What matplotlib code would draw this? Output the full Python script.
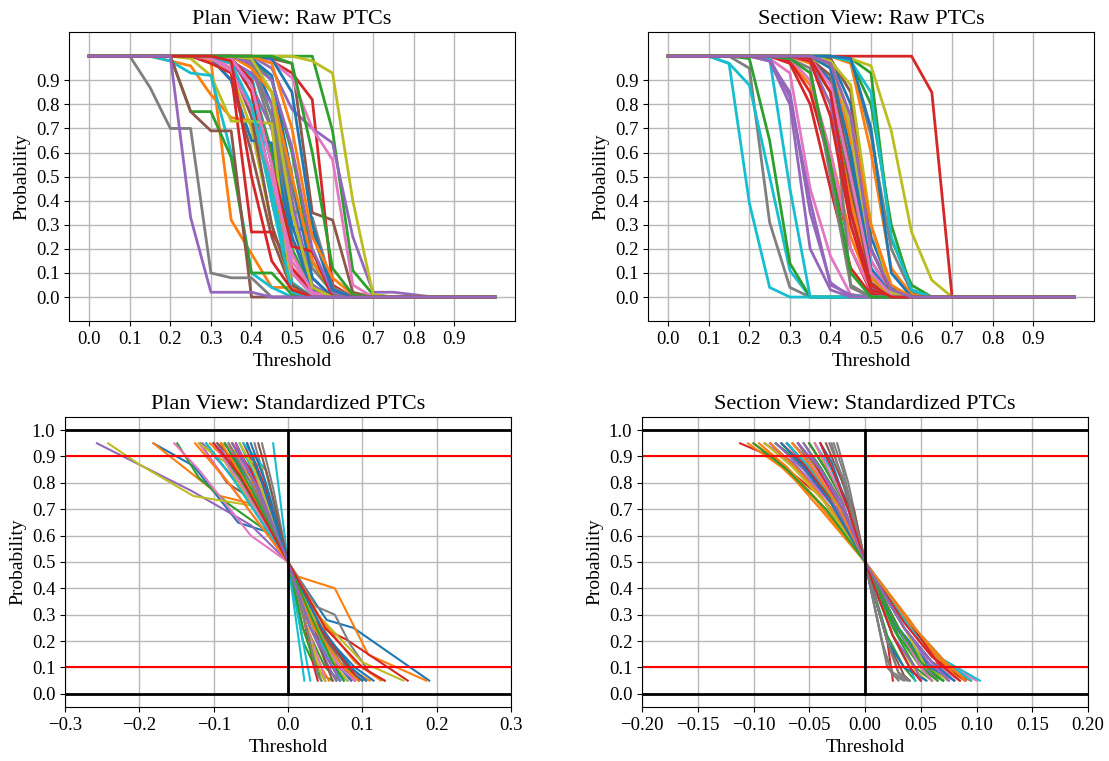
import matplotlib
matplotlib.use("Agg")
import matplotlib.pyplot as plt

plt.rcParams['font.family'] = ['Liberation Serif', 'DejaVu Serif']

# ---------------- data ----------------
THRESH = [0.00, 0.05, 0.10, 0.15, 0.20, 0.25, 0.30, 0.35, 0.40, 0.45, 0.50,
          0.55, 0.60, 0.65, 0.70, 0.75, 0.80, 0.85, 0.90, 0.95, 1.00]

PLAN_RAW = [
    [1,1,1,1,1,1,1,1,.97,.75,.30,.05,0,0,0,0,0,0,0,0,0],
    [1,1,1,1,1,1,.99,.95,.80,.45,.12,.02,0,0,0,0,0,0,0,0,0],
    [1,1,1,1,1,1,1,.98,.90,.60,.20,.03,0,0,0,0,0,0,0,0,0],
    [1,1,1,1,1,1,1,.99,.85,.40,.06,0,0,0,0,0,0,0,0,0,0],
    [1,1,1,1,1,1,1,.97,.88,.70,.35,.08,0,0,0,0,0,0,0,0,0],
    [1,1,1,1,1,1,.99,.90,.60,.25,.03,0,0,0,0,0,0,0,0,0,0],
    [1,1,1,1,1,1,1,.95,.75,.50,.15,.02,0,0,0,0,0,0,0,0,0],
    [1,1,1,1,1,1,1,1,.96,.70,.25,.04,0,0,0,0,0,0,0,0,0],
    [1,1,1,1,1,1,.99,.93,.70,.30,.04,0,0,0,0,0,0,0,0,0,0],
    [1,1,1,1,1,1,1,.98,.92,.55,.10,.01,0,0,0,0,0,0,0,0,0],
    [1,1,1,1,1,1,.99,.90,.65,.64,.25,.03,0,0,0,0,0,0,0,0,0],
    [1,1,1,1,.98,.96,.84,.745,.73,.45,.10,.02,0,0,0,0,0,0,0,0,0],
    [1,1,1,1,1,1,1,1,1,1,1,1,.69,.11,.01,0,0,0,0,0,0],
    [1,1,1,1,1,1,1,1,1,.98,.93,.82,.05,0,0,0,0,0,0,0,0],
    [1,1,1,1,1,1,1,1,1,.95,.78,.70,.64,.25,.02,.02,.01,0,0,0,0],
    [1,1,1,1,1,1,1,1,1,.99,.97,.35,.32,.02,0,0,0,0,0,0,0],
    [1,1,1,1,1,1,1,1,1,.98,.91,.70,.57,.05,0,0,0,0,0,0,0],
    [1,1,1,1,1,1,1,1,.98,.85,.45,.12,.02,0,0,0,0,0,0,0,0],
    [1,1,1,1,1,1,1,1,1,1,1,.98,.93,.40,.01,0,0,0,0,0,0],
    [1,1,1,1,1,1,1,.99,.90,.45,.06,0,0,0,0,0,0,0,0,0,0],
    [1,1,1,1,1,1,1,1,.99,.80,.29,.27,.02,0,0,0,0,0,0,0,0],
    [1,1,1,1,1,1,.98,.32,.18,.04,.04,0,0,0,0,0,0,0,0,0,0],
    [1,1,1,1,1,1,1,1,.99,.90,.60,.15,.01,0,0,0,0,0,0,0,0],
    [1,1,1,1,1,1,.97,.93,.27,.27,.12,.02,0,0,0,0,0,0,0,0,0],
    [1,1,1,1,1,1,1,.98,.93,.80,.40,.05,0,0,0,0,0,0,0,0,0],
    [1,1,1,1,1,1,1,.97,.75,.30,.05,0,0,0,0,0,0,0,0,0,0],
    [1,1,1,1,1,1,.99,.94,.78,.50,.18,.02,0,0,0,0,0,0,0,0,0],
    [1,1,1,1,1,1,1,1,.98,.75,.36,.33,.04,0,0,0,0,0,0,0,0],
    [1,1,1,1,1,.99,.92,.73,.73,.72,0,0,0,0,0,0,0,0,0,0,0],
    [1,1,1,1,.98,.93,.92,.60,.10,.04,0,0,0,0,0,0,0,0,0,0,0],
    [1,1,1,1,1,1,1,1,.99,.92,.50,.08,0,0,0,0,0,0,0,0,0],
    [1,1,1,1,1,1,1,1,.95,.85,.50,.15,.02,0,0,0,0,0,0,0,0],
    [1,1,1,1,1,.77,.77,.58,.10,.10,.01,0,0,0,0,0,0,0,0,0,0],
    [1,1,1,1,1,1,1,.99,.90,.55,.21,.19,0,0,0,0,0,0,0,0,0],
    [1,1,1,1,1,1,1,1,.97,.90,.62,.20,.02,0,0,0,0,0,0,0,0],
    [1,1,1,1,1,.77,.69,.69,0,0,0,0,0,0,0,0,0,0,0,0,0],
    [1,1,1,1,1,1,1,.99,.88,.55,.10,.01,0,0,0,0,0,0,0,0,0],
    [1,1,1,.87,.70,.70,.10,.08,.08,0,0,0,0,0,0,0,0,0,0,0,0],
    [1,1,1,1,1,1,1,1,.99,.85,.35,.04,0,0,0,0,0,0,0,0,0],
    [1,1,1,1,1,1,1,.97,.80,.40,.02,0,0,0,0,0,0,0,0,0,0],
    [1,1,1,1,1,1,1,1,1,.99,.85,.30,.03,0,0,0,0,0,0,0,0],
    [1,1,1,1,1,1,1,1,1,.97,.70,.25,.08,.01,0,0,0,0,0,0,0],
    [1,1,1,1,1,1,1,1,1,1,.97,.60,.12,.01,0,0,0,0,0,0,0],
    [1,1,1,1,1,1,1,.98,.50,.15,.03,0,0,0,0,0,0,0,0,0,0],
    [1,1,1,1,1,.33,.02,.02,.02,0,0,0,0,0,0,0,0,0,0,0,0],
]

SECTION_RAW = [
    [1,1,1,1,1,1,1,.99,.90,.55,.10,.02,0,0,0,0,0,0,0,0,0],
    [1,1,1,1,1,1,.98,.88,.60,.25,.04,0,0,0,0,0,0,0,0,0,0],
    [1,1,1,1,1,1,1,.98,.85,.40,.05,0,0,0,0,0,0,0,0,0,0],
    [1,1,1,1,1,1,.97,.80,.45,.12,.01,0,0,0,0,0,0,0,0,0,0],
    [1,1,1,1,1,.98,.85,.35,.06,0,0,0,0,0,0,0,0,0,0,0,0],
    [1,1,1,1,1,1,1,.99,.92,.45,.06,0,0,0,0,0,0,0,0,0,0],
    [1,1,1,1,1,.99,.93,.45,.17,.01,0,0,0,0,0,0,0,0,0,0,0],
    [1,1,1,1,.95,.31,.04,0,0,0,0,0,0,0,0,0,0,0,0,0,0],
    [1,1,1,1,1,1,1,.99,.96,.50,.08,0,0,0,0,0,0,0,0,0,0],
    [1,1,1,.97,.39,.04,0,0,0,0,0,0,0,0,0,0,0,0,0,0,0],
    [1,1,1,1,1,1,1,1,.97,.70,.15,.02,0,0,0,0,0,0,0,0,0],
    [1,1,1,1,1,1,1,.97,.80,.40,.08,0,0,0,0,0,0,0,0,0,0],
    [1,1,1,1,1,1,1,1,1,.99,.93,.24,.05,0,0,0,0,0,0,0,0],
    [1,1,1,1,1,1,.98,.85,.55,.20,.02,0,0,0,0,0,0,0,0,0,0],
    [1,1,1,1,1,.99,.83,.40,.05,.01,0,0,0,0,0,0,0,0,0,0,0],
    [1,1,1,1,1,1,1,1,.98,.60,.10,0,0,0,0,0,0,0,0,0,0],
    [1,1,1,1,1,1,.99,.90,.60,.20,.03,0,0,0,0,0,0,0,0,0,0],
    [1,1,1,1,1,1,1,1,.97,.04,0,0,0,0,0,0,0,0,0,0,0],
    [1,1,1,1,1,1,1,1,1,.99,.96,.69,.27,.07,0,0,0,0,0,0,0],
    [1,1,1,.97,.88,.50,.11,0,0,0,0,0,0,0,0,0,0,0,0,0,0],
    [1,1,1,1,1,1,1,1,.99,.80,.25,.04,0,0,0,0,0,0,0,0,0],
    [1,1,1,1,1,1,1,1,.98,.65,.20,.03,0,0,0,0,0,0,0,0,0],
    [1,1,1,1,.99,.65,.14,0,0,0,0,0,0,0,0,0,0,0,0,0,0],
    [1,1,1,1,1,1,1,1,1,1,1,1,1,.85,0,0,0,0,0,0,0],
    [1,1,1,1,1,1,1,.98,.80,.35,.04,0,0,0,0,0,0,0,0,0,0],
    [1,1,1,1,1,1,1,1,.97,.50,.05,0,0,0,0,0,0,0,0,0,0],
    [1,1,1,1,1,1,1,1,.98,.70,.15,.02,0,0,0,0,0,0,0,0,0],
    [1,1,1,1,1,1,1,1,1,.98,.67,.20,.02,0,0,0,0,0,0,0,0],
    [1,1,1,1,1,1,1,1,.99,.70,.10,0,0,0,0,0,0,0,0,0,0],
    [1,1,1,1,1,.99,.45,0,0,0,0,0,0,0,0,0,0,0,0,0,0],
    [1,1,1,1,1,1,1,1,.95,.60,.12,.01,0,0,0,0,0,0,0,0,0],
    [1,1,1,1,1,1,1,1,1,.97,.60,.12,.01,0,0,0,0,0,0,0,0],
    [1,1,1,1,1,1,1,1,1,.98,.80,.30,.03,0,0,0,0,0,0,0,0],
    [1,1,1,1,1,1,1,.98,.75,.30,.03,0,0,0,0,0,0,0,0,0,0],
    [1,1,1,1,1,.98,.80,.20,.03,0,0,0,0,0,0,0,0,0,0,0,0],
    [1,1,1,1,1,1,1,1,.99,.85,.20,.02,0,0,0,0,0,0,0,0,0],
    [1,1,1,1,1,1,1,.99,.88,.50,.10,.01,0,0,0,0,0,0,0,0,0],
    [1,1,1,1,1,1,.99,.95,.50,.05,0,0,0,0,0,0,0,0,0,0,0],
    [1,1,1,1,1,1,1,1,.98,.88,.30,.02,0,0,0,0,0,0,0,0,0],
    [1,1,1,1,1,1,1,1,1,.98,.85,.25,.03,0,0,0,0,0,0,0,0],
    [1,1,1,1,1,1,1,1,1,.99,.70,.10,0,0,0,0,0,0,0,0,0],
    [1,1,1,1,1,1,1,1,.97,.75,.30,.05,0,0,0,0,0,0,0,0,0],
    [1,1,1,1,1,1,.99,.93,.55,.10,0,0,0,0,0,0,0,0,0,0,0],
    [1,1,1,1,1,1,1,.99,.85,.35,.05,0,0,0,0,0,0,0,0,0,0],
    [1,1,1,1,1,1,1,1,.97,.75,.20,.03,0,0,0,0,0,0,0,0,0],
]

# standardized curves: lists of (threshold offset, probability)
PLAN_STD = [
    [(-0.181,.95),(-0.127,.864),(-0.067,.649),(-0.024,.611),(0,.5),(0.052,.28),(0.088,.25),(0.19,.05)],
    [(-0.181,.95),(-0.136,.85),(-0.091,.75),(-0.033,.71),(0,.5),(0.012,.446),(0.063,.40),(0.108,.148),(0.186,.05)],
    [(-0.149,.95),(-0.12,.82),(-0.08,.72),(-0.03,.62),(0,.5),(0.02,.2),(0.04,.08),(0.06,.05)],
    [(-0.09,.95),(-0.05,.75),(0,.5),(0.025,.28),(0.079,.205),(0.161,.05)],
    [(-0.257,.95),(-0.13,.77),(-0.05,.64),(0,.5),(0.03,.3),(0.07,.12),(0.09,.05)],
    [(-0.118,.95),(-0.082,.80),(-0.033,.71),(0,.5),(0.03,.3),(0.06,.12),(0.1,.05)],
    [(-0.153,.95),(-0.12,.85),(-0.05,.6),(0,.5),(0.03,.25),(0.06,.1),(0.075,.05)],
    [(-0.1,.95),(-0.06,.8),(-0.02,.65),(0,.5),(0.0385,.33),(0.063,.30),(0.083,.19),(0.11,.08),(0.13,.05)],
    [(-0.242,.95),(-0.2,.87),(-0.127,.75),(-0.04,.71),(0,.5),(0.04,.3),(0.1,.12),(0.155,.05)],
    [(-0.02,.95),(0,.5),(0.022,.05)],
    [(-0.10,.95),(-0.06,.8),(0,.5),(0.03,.3),(0.07,.12),(0.1,.05)],
    [(-0.08,.95),(-0.05,.82),(0,.5),(0.04,.28),(0.08,.1),(0.11,.05)],
    [(-0.11,.95),(-0.07,.8),(0,.5),(0.025,.25),(0.05,.1),(0.07,.05)],
    [(-0.07,.95),(-0.04,.78),(0,.5),(0.03,.3),(0.06,.12),(0.09,.05)],
    [(-0.095,.95),(-0.05,.75),(0,.5),(0.035,.25),(0.07,.1),(0.085,.05)],
    [(-0.06,.95),(-0.035,.8),(0,.5),(0.02,.25),(0.04,.1),(0.05,.05)],
    [(-0.12,.95),(-0.08,.8),(0,.5),(0.03,.27),(0.065,.1),(0.08,.05)],
    [(-0.045,.95),(-0.03,.8),(0,.5),(0.04,.25),(0.07,.12),(0.095,.05)],
    [(-0.09,.95),(-0.03,.85),(0,.5),(0.025,.3),(0.05,.12),(0.065,.05)],
    [(-0.065,.95),(-0.04,.8),(0,.5),(0.035,.25),(0.06,.1),(0.075,.05)],
    [(-0.085,.95),(-0.05,.8),(0,.5),(0.04,.25),(0.09,.1),(0.115,.05)],
    [(-0.105,.95),(-0.07,.85),(0,.5),(0.02,.3),(0.045,.1),(0.055,.05)],
    [(-0.075,.95),(-0.045,.8),(0,.5),(0.045,.25),(0.08,.1),(0.095,.05)],
    [(-0.055,.95),(-0.03,.78),(0,.5),(0.02,.3),(0.035,.1),(0.04,.05)],
    [(-0.115,.95),(-0.06,.78),(0,.5),(0.03,.25),(0.06,.1),(0.08,.05)],
    [(-0.095,.95),(-0.07,.88),(0,.5),(0.04,.25),(0.075,.12),(0.105,.05)],
    [(-0.085,.95),(-0.04,.8),(0,.5),(0.025,.25),(0.045,.1),(0.05,.05)],
    [(-0.035,.95),(-0.02,.78),(0,.5),(0.03,.25),(0.055,.1),(0.065,.05)],
    [(-0.12,.95),(-0.085,.88),(0,.5),(0.03,.2),(0.045,.07),(0.05,.05)],
    [(-0.06,.95),(-0.03,.85),(0,.5),(0.02,.2),(0.03,.05)],
    [(-0.05,.95),(-0.03,.8),(0,.5),(0.035,.25),(0.07,.1),(0.085,.05)],
    [(-0.09,.95),(-0.06,.82),(0,.5),(0.045,.28),(0.09,.12),(0.125,.05)],
    [(-0.1,.95),(-0.065,.82),(0,.5),(0.02,.25),(0.04,.08),(0.045,.05)],
    [(-0.075,.95),(-0.05,.85),(0,.5),(0.03,.3),(0.07,.15),(0.095,.05)],
    [(-0.07,.95),(-0.045,.8),(0,.5),(0.03,.25),(0.055,.1),(0.065,.05)],
    [(-0.04,.95),(-0.025,.8),(0,.5),(0.03,.3),(0.05,.12),(0.06,.05)],
    [(-0.1,.95),(-0.06,.78),(0,.5),(0.035,.25),(0.07,.1),(0.09,.05)],
    [(-0.08,.95),(-0.05,.8),(0,.5),(0.025,.25),(0.04,.07),(0.045,.05)],
    [(-0.065,.95),(-0.045,.85),(0,.5),(0.04,.25),(0.065,.1),(0.08,.05)],
    [(-0.11,.95),(-0.07,.8),(0,.5),(0.03,.25),(0.06,.1),(0.07,.05)],
    [(-0.055,.95),(-0.035,.8),(0,.5),(0.045,.25),(0.085,.1),(0.105,.05)],
    [(-0.125,.95),(-0.08,.8),(0,.5),(0.035,.25),(0.075,.1),(0.095,.05)],
    [(-0.085,.95),(-0.05,.78),(0,.5),(0.03,.3),(0.06,.12),(0.075,.05)],
    [(-0.1,.95),(-0.065,.83),(0,.5),(0.05,.25),(0.1,.1),(0.13,.05)],
    [(-0.075,.95),(-0.04,.78),(0,.5),(0.03,.25),(0.06,.1),(0.07,.05)],
]

SECTION_STD = [
    [(-0.08,.95),(-0.06,.88),(-0.03,.72),(0,.5),(0.03,.25),(0.055,.12),(0.08,.05)],
    [(-0.1,.95),(-0.079,.89),(-0.04,.70),(0,.5),(0.035,.25),(0.06,.12),(0.085,.05)],
    [(-0.07,.95),(-0.05,.85),(-0.025,.7),(0,.5),(0.025,.25),(0.045,.1),(0.06,.05)],
    [(-0.112,.95),(-0.084,.90),(-0.04,.75),(0,.5),(0.035,.25),(0.06,.12),(0.095,.05)],
    [(-0.09,.95),(-0.065,.88),(-0.03,.72),(0,.5),(0.04,.25),(0.065,.12),(0.09,.05)],
    [(-0.06,.95),(-0.045,.85),(-0.02,.7),(0,.5),(0.025,.22),(0.04,.1),(0.05,.05)],
    [(-0.085,.95),(-0.06,.85),(-0.03,.7),(0,.5),(0.04,.26),(0.07,.12),(0.1,.05)],
    [(-0.03,.95),(-0.02,.8),(0,.5),(0.015,.2),(0.02,.1),(0.03,.05)],
    [(-0.075,.95),(-0.055,.86),(-0.025,.7),(0,.5),(0.03,.25),(0.05,.1),(0.065,.05)],
    [(-0.05,.95),(-0.035,.85),(-0.015,.7),(0,.5),(0.04,.27),(0.07,.13),(0.103,.05)],
    [(-0.065,.95),(-0.045,.86),(-0.02,.7),(0,.5),(0.03,.24),(0.05,.1),(0.07,.05)],
    [(-0.095,.95),(-0.07,.86),(-0.035,.7),(0,.5),(0.04,.26),(0.065,.12),(0.09,.05)],
    [(-0.08,.95),(-0.055,.86),(-0.025,.72),(0,.5),(0.03,.22),(0.05,.1),(0.07,.05)],
    [(-0.05,.95),(-0.035,.85),(-0.015,.7),(0,.5),(0.02,.2),(0.025,.05)],
    [(-0.07,.95),(-0.05,.85),(-0.02,.7),(0,.5),(0.035,.25),(0.06,.1),(0.08,.05)],
    [(-0.04,.95),(-0.03,.85),(-0.015,.72),(0,.5),(0.02,.2),(0.03,.08),(0.04,.05)],
    [(-0.09,.95),(-0.065,.87),(-0.03,.72),(0,.5),(0.035,.25),(0.06,.12),(0.085,.05)],
    [(-0.025,.95),(-0.015,.8),(0,.5),(0.015,.2),(0.025,.07),(0.035,.05)],
    [(-0.06,.95),(-0.045,.86),(-0.02,.7),(0,.5),(0.03,.25),(0.05,.1),(0.06,.05)],
    [(-0.045,.95),(-0.03,.85),(-0.015,.7),(0,.5),(0.04,.25),(0.07,.12),(0.09,.05)],
    [(-0.085,.95),(-0.06,.85),(-0.03,.7),(0,.5),(0.03,.24),(0.055,.11),(0.075,.05)],
    [(-0.105,.95),(-0.075,.86),(-0.045,.74),(0,.5),(0.04,.28),(0.065,.13),(0.095,.05)],
    [(-0.055,.95),(-0.04,.86),(-0.02,.72),(0,.5),(0.02,.22),(0.035,.1),(0.045,.05)],
    [(-0.075,.95),(-0.055,.87),(-0.025,.7),(0,.5),(0.035,.27),(0.06,.14),(0.09,.05)],
    [(-0.08,.95),(-0.055,.85),(-0.025,.7),(0,.5),(0.03,.25),(0.05,.12),(0.065,.05)],
    [(-0.035,.95),(-0.025,.85),(-0.01,.7),(0,.5),(0.02,.2),(0.035,.07),(0.04,.05)],
    [(-0.065,.95),(-0.045,.85),(-0.02,.7),(0,.5),(0.035,.25),(0.06,.12),(0.075,.05)],
    [(-0.028,.95),(-0.02,.85),(0,.5),(0.018,.15),(0.025,.08),(0.038,.05)],
    [(-0.045,.95),(-0.035,.86),(-0.015,.7),(0,.5),(0.025,.22),(0.045,.09),(0.055,.05)],
    [(-0.06,.95),(-0.04,.85),(-0.02,.7),(0,.5),(0.025,.22),(0.04,.1),(0.045,.05)],
    [(-0.04,.95),(-0.03,.88),(-0.015,.7),(0,.5),(0.02,.2),(0.035,.1),(0.055,.05)],
    [(-0.085,.95),(-0.06,.85),(-0.03,.7),(0,.5),(0.04,.27),(0.07,.12),(0.085,.05)],
    [(-0.05,.95),(-0.035,.85),(-0.015,.7),(0,.5),(0.03,.25),(0.05,.1),(0.065,.05)],
    [(-0.06,.95),(-0.045,.87),(-0.02,.7),(0,.5),(0.04,.27),(0.065,.12),(0.085,.05)],
    [(-0.055,.95),(-0.04,.85),(-0.02,.72),(0,.5),(0.025,.22),(0.045,.1),(0.05,.05)],
    [(-0.07,.95),(-0.05,.86),(-0.025,.72),(0,.5),(0.03,.25),(0.05,.1),(0.06,.05)],
    [(-0.045,.95),(-0.035,.87),(-0.015,.7),(0,.5),(0.03,.25),(0.05,.1),(0.06,.05)],
    [(-0.032,.95),(-0.02,.82),(0,.5),(0.02,.2),(0.03,.08),(0.04,.05)],
    [(-0.09,.95),(-0.065,.86),(-0.035,.72),(0,.5),(0.035,.25),(0.055,.1),(0.075,.05)],
    [(-0.07,.95),(-0.05,.86),(-0.025,.72),(0,.5),(0.04,.27),(0.07,.13),(0.095,.05)],
    [(-0.075,.95),(-0.055,.86),(-0.03,.72),(0,.5),(0.035,.25),(0.06,.12),(0.08,.05)],
    [(-0.065,.95),(-0.05,.87),(-0.025,.72),(0,.5),(0.04,.27),(0.07,.13),(0.09,.05)],
    [(-0.1,.95),(-0.07,.85),(-0.035,.7),(0,.5),(0.03,.25),(0.05,.12),(0.07,.05)],
    [(-0.04,.95),(-0.03,.86),(-0.015,.7),(0,.5),(0.025,.22),(0.04,.1),(0.05,.05)],
    [(-0.06,.95),(-0.04,.85),(-0.02,.7),(0,.5),(0.035,.25),(0.06,.12),(0.075,.05)],
]

RAW_TICKS = [0.0, 0.1, 0.2, 0.3, 0.4, 0.5, 0.6, 0.7, 0.8, 0.9]
STD_YTICKS = [0.0, 0.1, 0.2, 0.3, 0.4, 0.5, 0.6, 0.7, 0.8, 0.9, 1.0]
PLAN_STD_XTICKS = [-0.3, -0.2, -0.1, 0.0, 0.1, 0.2, 0.3]
SECTION_STD_XTICKS = [-0.20, -0.15, -0.10, -0.05, 0.00, 0.05, 0.10, 0.15, 0.20]
REF_LINES = [0.1, 0.9]

TITLES = ["Plan View: Raw PTCs", "Section View: Raw PTCs",
          "Plan View: Standardized PTCs", "Section View: Standardized PTCs"]

# ---------------- figure ----------------
fig = plt.figure(figsize=(11.09, 7.61), dpi=100)
W = 0.4022
ax_pr = fig.add_axes([0.0622, 0.578, W, 0.3798])
ax_sr = fig.add_axes([0.5843, 0.578, W, 0.3798])
ax_ps = fig.add_axes([0.0586, 0.0710, W, 0.3811])
ax_ss = fig.add_axes([0.5789, 0.0710, W, 0.3811])

TICK_FS = 13.5
LABEL_FS = 14
TITLE_FS = 16

for ax, curves, title in [(ax_pr, PLAN_RAW, TITLES[0]), (ax_sr, SECTION_RAW, TITLES[1])]:
    for c in curves:
        ax.plot(THRESH, c, lw=2.0)
    ax.set_xticks(RAW_TICKS)
    ax.set_yticks(RAW_TICKS)
    ax.set_xticklabels([f"{t:.1f}" for t in RAW_TICKS])
    ax.set_yticklabels([f"{t:.1f}" for t in RAW_TICKS])
    ax.set_xlim(-0.05, 1.05)
    ax.set_ylim(-0.1, 1.1)
    ax.grid(True, color='#b8b8b8', lw=1.0)
    ax.set_axisbelow(True)
    ax.set_title(title, fontsize=TITLE_FS)
    ax.set_xlabel("Threshold", fontsize=LABEL_FS)
    ax.set_ylabel("Probability", fontsize=LABEL_FS)
    ax.tick_params(labelsize=TICK_FS)

for ax, curves, title, xt, xl, fmt in [
        (ax_ps, PLAN_STD, TITLES[2], PLAN_STD_XTICKS, 0.3, "{:.1f}"),
        (ax_ss, SECTION_STD, TITLES[3], SECTION_STD_XTICKS, 0.2, "{:.2f}")]:
    for c in curves:
        ax.plot([p[0] for p in c], [p[1] for p in c], lw=1.5)
    for r in REF_LINES:
        ax.plot([-xl, xl], [r, r], color='red', lw=1.5)
    ax.plot([-xl, xl], [0, 0], color='black', lw=2.0)
    ax.plot([-xl, xl], [1, 1], color='black', lw=2.0)
    ax.plot([0, 0], [0, 1], color='black', lw=2.0)
    ax.set_xticks(xt)
    ax.set_xticklabels([fmt.format(t).replace('-', '\u2212') for t in xt])
    ax.set_yticks(STD_YTICKS)
    ax.set_yticklabels([f"{t:.1f}" for t in STD_YTICKS])
    ax.set_xlim(-xl, xl)
    ax.set_ylim(-0.05, 1.05)
    ax.grid(True, color='#b8b8b8', lw=1.0)
    ax.set_axisbelow(True)
    ax.set_title(title, fontsize=TITLE_FS)
    ax.set_xlabel("Threshold", fontsize=LABEL_FS)
    ax.set_ylabel("Probability", fontsize=LABEL_FS)
    ax.tick_params(labelsize=TICK_FS)

fig.savefig("out.png", dpi=100)
